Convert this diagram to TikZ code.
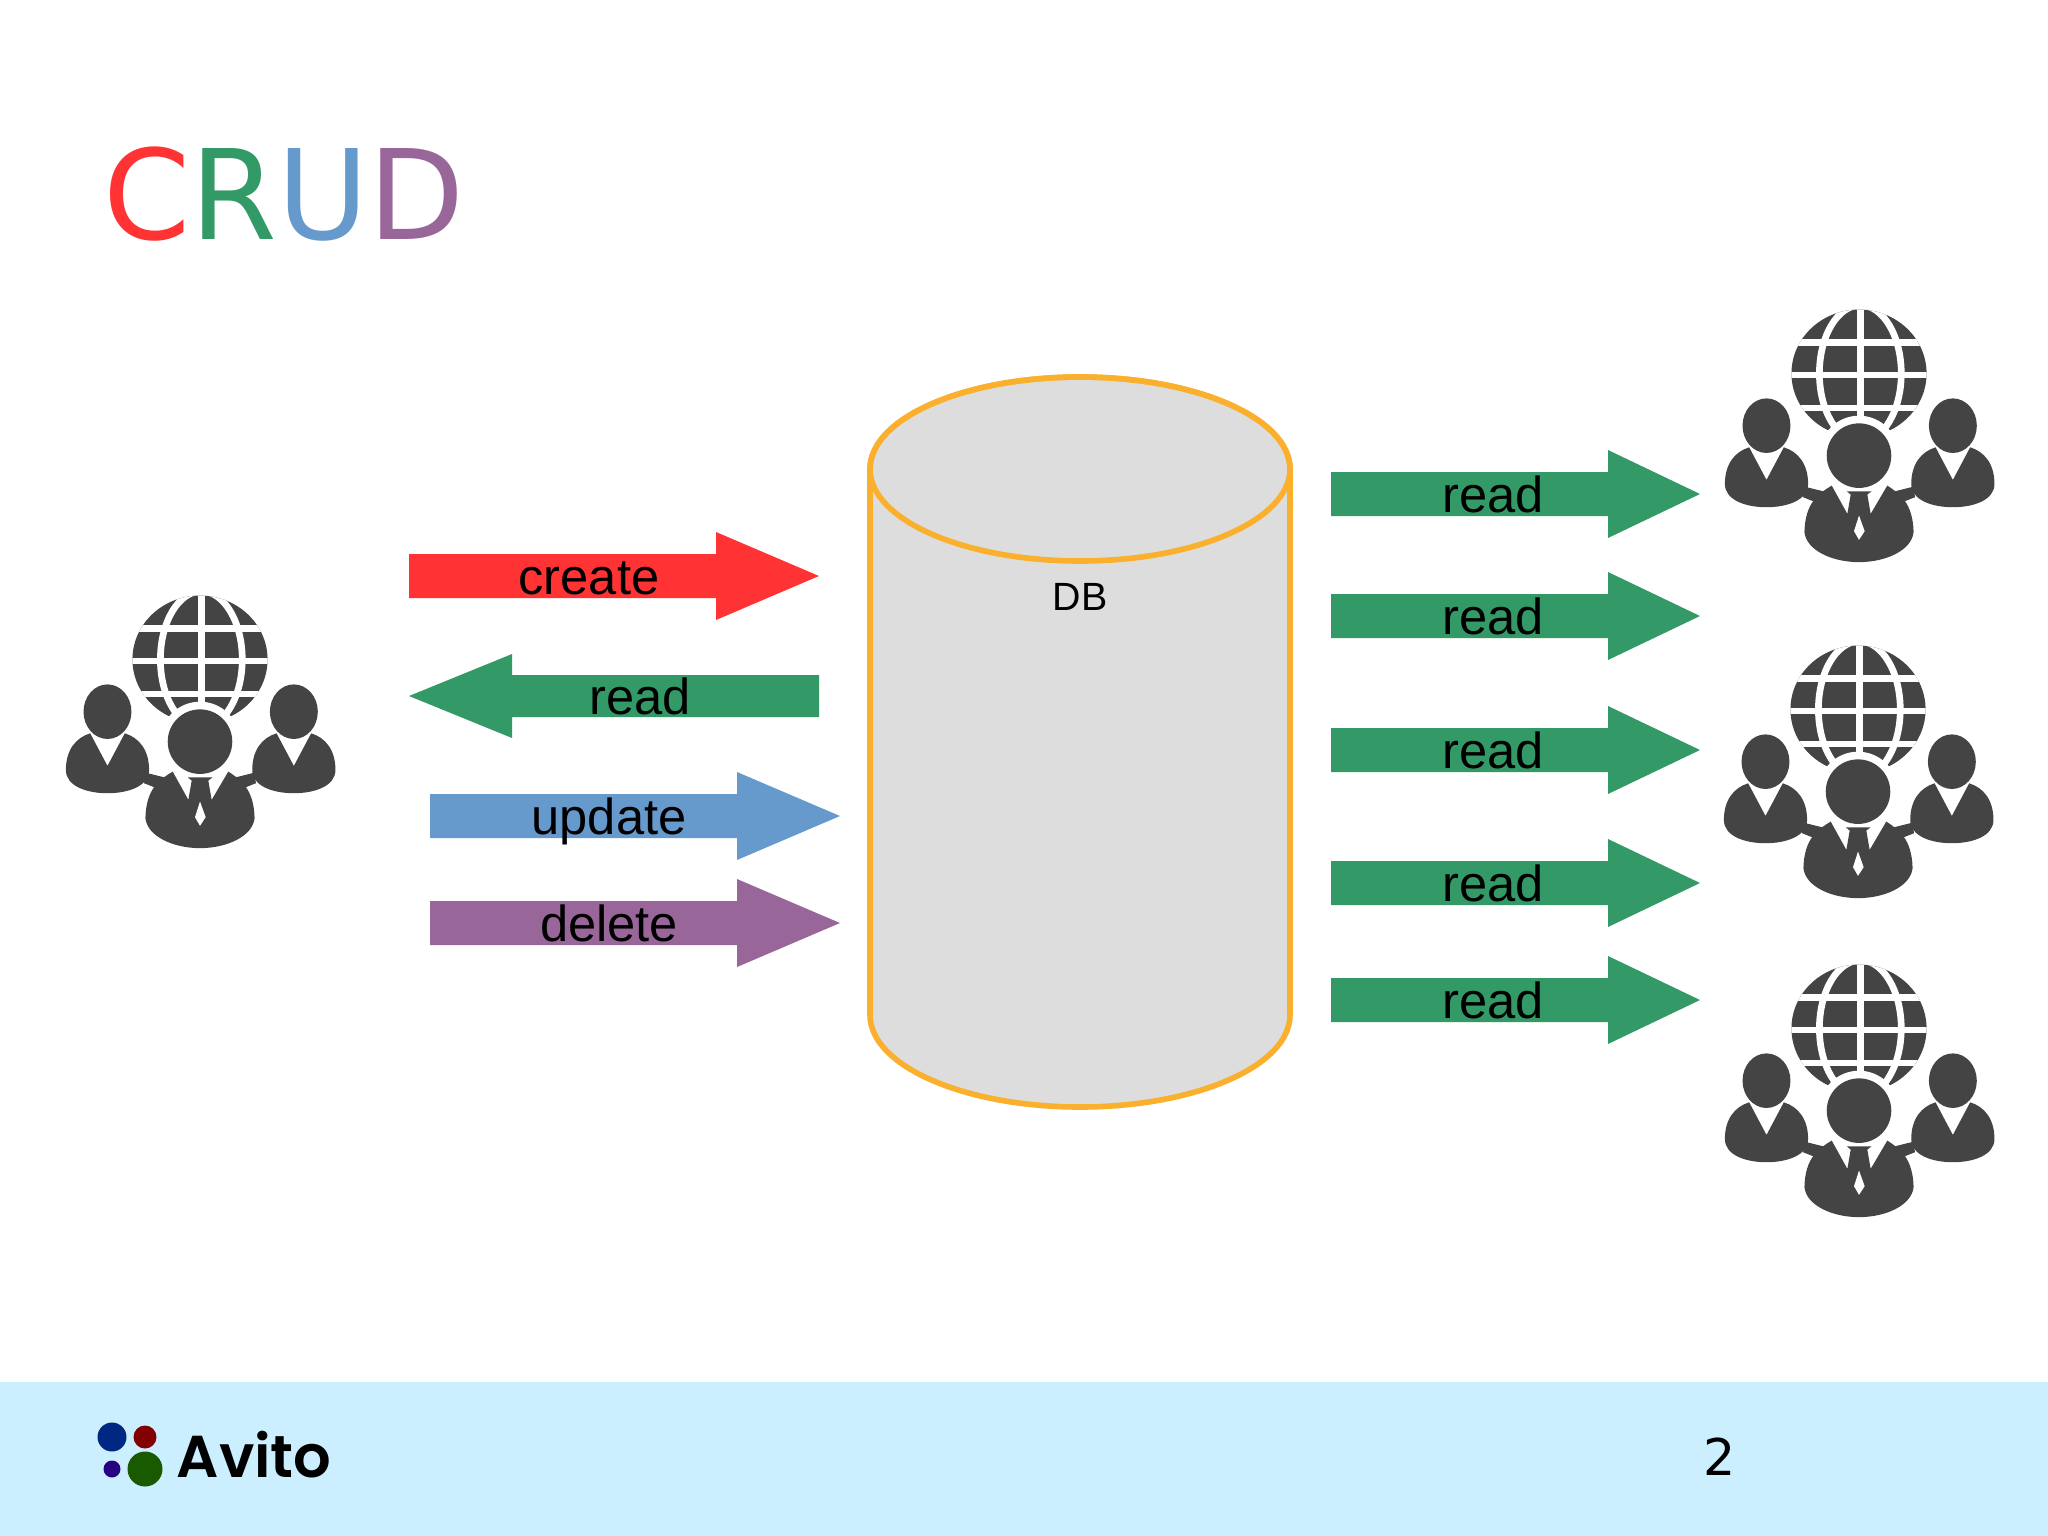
\documentclass[tikz,border=0pt]{standalone}
\usepackage{xcolor}
\usepackage{fontspec}
\setmainfont{Liberation Sans}
\newfontfamily\titlefont{DejaVu Sans}
\newfontfamily\logofont{Poppins}[UprightFont=* Medium,BoldFont=* SemiBold]
\usetikzlibrary{positioning}
\definecolor{crudred}{HTML}{FF3333}
\definecolor{crudgreen}{HTML}{339966}
\definecolor{crudblue}{HTML}{6699CC}
\definecolor{crudpurple}{HTML}{996699}
\definecolor{dbedge}{HTML}{FBB02D}
\definecolor{dbfill}{HTML}{DDDDDD}
\definecolor{footerblue}{HTML}{CCEFFF}
\definecolor{icongray}{HTML}{444444}

\begin{document}
\begin{tikzpicture}[x=.01cm,y=-.01cm,line cap=butt,line join=miter,
  arrowlabel/.style={font=\fontsize{14.4}{16}\selectfont,inner sep=0pt,anchor=base,text=black},
  gridline/.style={draw=white,line width=1.9pt}]
  \useasboundingbox (0,0) rectangle (2048,1536);

  % Title.
  \node[font=\titlefont\fontsize{35.5}{40}\selectfont,anchor=base west,inner sep=0pt] (title) at (103,239)
    {\textcolor{crudred}{C}\textcolor{crudgreen}{R}\textcolor{crudblue}{U}\textcolor{crudpurple}{D}};

  % Database cylinder.
  \draw[fill=dbfill,draw=dbedge,line width=1.6pt] (870,469)--(870,1015)
    arc[start angle=180,end angle=0,x radius=210,y radius=92]
    --(1290,469) arc[start angle=0,end angle=-180,x radius=210,y radius=92]--cycle;
  \draw[draw=dbedge,line width=1.6pt] (1080,469) ellipse (210 and 92);
  \node[font=\fontsize{11.2}{13}\selectfont,inner sep=0pt,anchor=base] (db) at (1080,610) {DB};

  % Left arrows.
  \foreach \tail/\base/\tip/\yy/\sh/\hh/\col/\lx/\lab in {409/716/819/576/22/44/crudred/589/create,
      819/512/409/696/21/42/crudgreen/640/read,430/737/840/816/22/44/crudblue/609/update,
      430/737/840/923/22/44/crudpurple/609/delete}{
    \fill[\col] (\tail,\yy-\sh)--(\base,\yy-\sh)--(\base,\yy-\hh)--(\tip,\yy)
      --(\base,\yy+\hh)--(\base,\yy+\sh)--(\tail,\yy+\sh)--cycle;
    \node[arrowlabel] (\lab) at (\lx,\yy+18) {\lab};
  }

  % Right arrows.
  \foreach \yy in {494,616,750,883,1000}{
    \fill[crudgreen] (1331,\yy-22)--(1608,\yy-22)--(1608,\yy-44)--(1700,\yy)
      --(1608,\yy+44)--(1608,\yy+22)--(1331,\yy+22)--cycle;
    \node[arrowlabel] (read\yy) at (1493,\yy+18) {read};
  }

  % User groups.
  \foreach \cx/\cy in {200/720,1859/434,1858/770,1859/1089}{
    \begin{scope}[shift={(\cx,\cy)},x=.00333cm,y=-.00333cm,shift={(-480,-450)}]
      % Globe.
      \begin{scope}
        \clip (480,268) ellipse (203 and 192);
        \fill[icongray] (270,70) rectangle (690,460);
        \draw[gridline] (270,175)--(690,175);
        \draw[gridline] (270,273)--(690,273);
        \draw[gridline] (270,372)--(690,372);
        \draw[gridline] (484,70)--(484,460);
        \draw[gridline] (484,268) ellipse (123 and 205);
      \end{scope}
      \fill[white] (480,515) circle (120);
      \foreach \px in {202,762}
        \fill[white] (\px,425) ellipse (90 and 100);
      % Side people.
      \foreach \px in {202,762}{
        \fill[icongray] (\px,425) ellipse (72 and 82);
        \fill[icongray] (\px-52,490) .. controls (\px-95,503) and (\px-125,540) .. (\px-125,600)
          .. controls (\px-125,650) and (\px-60,670) .. (\px,670)
          .. controls (\px+60,670) and (\px+125,650) .. (\px+125,600)
          .. controls (\px+125,540) and (\px+95,503) .. (\px+52,490)
          --(\px,588)--cycle;
      }
      % Links between the bodies.
      \fill[icongray] (315,608)--(372,622)--(350,655)--(312,640)--cycle;
      \fill[icongray] (645,608)--(588,622)--(610,655)--(648,640)--cycle;
      % Central person.
      \fill[icongray] (480,515) circle (97);
      \fill[icongray] (398,605) .. controls (360,628) and (318,655) .. (316,745)
        .. controls (322,800) and (400,835) .. (480,835)
        .. controls (560,835) and (638,800) .. (644,745)
        .. controls (642,655) and (600,628) .. (565,605)
        --(515,690)--(505,632)--(518,622)--(443,622)--(455,632)--(445,690)--cycle;
      \fill[white] (480,695)--(497,742)--(480,768)--(465,742)--cycle;
    \end{scope}
  }

  % Footer.
  \fill[footerblue] (0,1382) rectangle (2048,1536);
  \fill[fill={rgb,255:red,0;green,40;blue,130}] (112,1437) circle (14.5);
  \fill[fill={rgb,255:red,130;green,0;blue,0}] (145,1437) circle (11.5);
  \fill[fill={rgb,255:red,40;green,0;blue,130}] (112,1469) circle (8.5);
  \fill[fill={rgb,255:red,25;green,90;blue,0}] (145,1469) circle (17.5);
  \node[font=\logofont\bfseries\fontsize{16.8}{20}\selectfont,anchor=base west,inner sep=0pt] (logo) at (176,1477) {Avito};
  \node[font=\titlefont\fontsize{14.4}{16}\selectfont,anchor=base,inner sep=0pt] (page) at (1720,1475) {2};
\end{tikzpicture}
\end{document}
